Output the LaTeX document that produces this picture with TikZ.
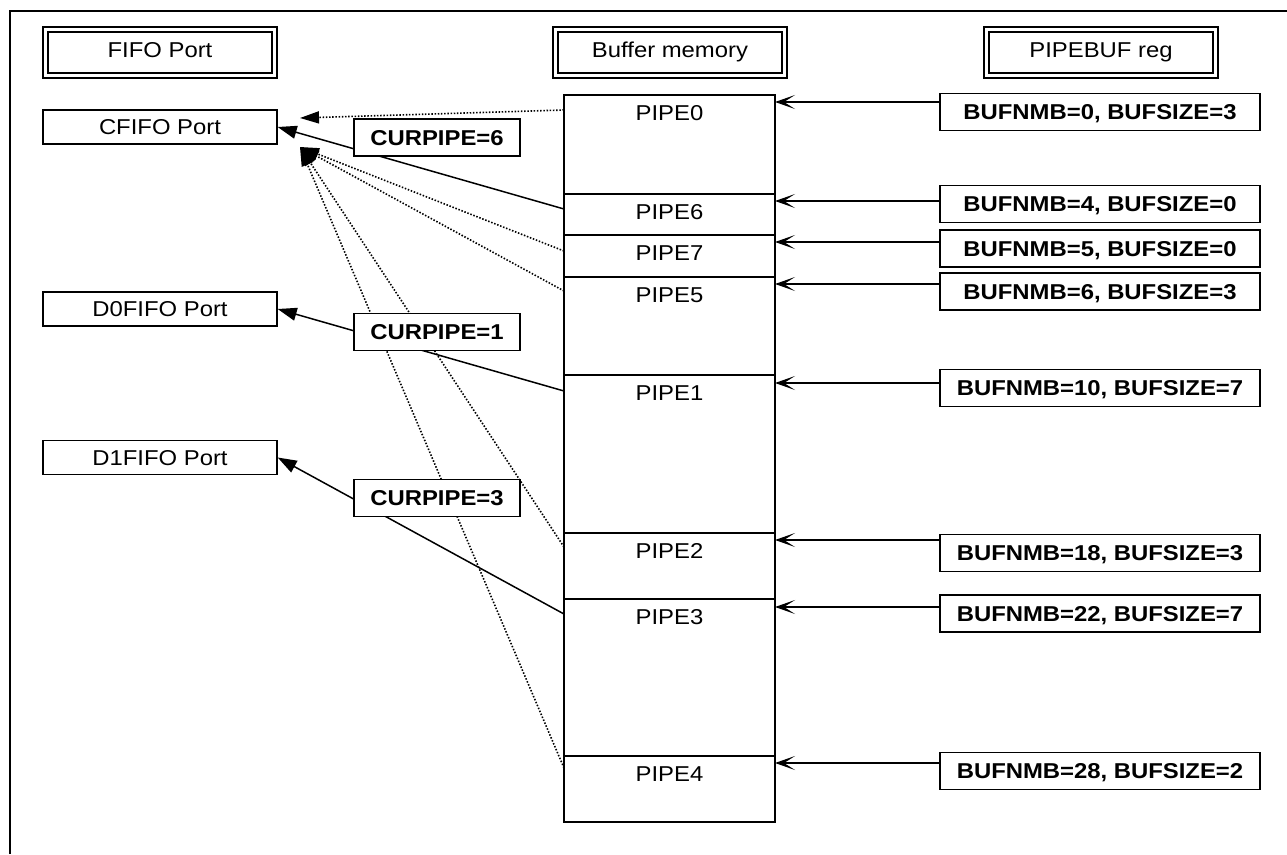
\documentclass[tikz,border=0pt]{standalone}
\usepackage{fontspec}
\setmainfont{Liberation Sans}[FakeStretch=1.11]
\usetikzlibrary{arrows.meta,calc}
\begin{document}
\begin{tikzpicture}[x=1pt,y=-1pt,
  font=\fontsize{21.5}{24}\selectfont,
  hdr/.style={draw, line width=1.5pt, double, double distance=3.5pt, minimum width=229pt, minimum height=46pt, inner sep=0pt, text height=16.1pt, text depth=5.4pt},
  port/.style={draw, line width=1.4pt, fill=white, minimum width=234pt, minimum height=34pt, inner sep=0pt, text height=15.6pt, text depth=0pt},
  cur/.style={port, font=\fontsize{21.5}{24}\selectfont\bfseries, minimum width=166pt, minimum height=37pt},
  reg/.style={cur, minimum width=320pt, minimum height=37pt},
  mem/.style={draw, line width=1.6pt, minimum width=211pt, inner sep=0pt, anchor=north},
  lbl/.style={inner sep=0pt, text height=16.1pt, text depth=5.4pt},
  into/.style={line width=1.4pt, -{Stealth[length=20pt,width=14pt,inset=11pt]}},
  tri/.style={line width=1.5pt, -{Triangle[length=19pt,width=13pt]}},
  dotl/.style={line width=1.6pt, dash pattern=on 1.5pt off 1.7pt, -{Triangle[length=19pt,width=12pt]}}
]
\useasboundingbox (0,0) rectangle (1287,854);
% frame
\draw[line width=2pt] (10,854) -- (10,11) -- (1287,11);
% headers
\node[hdr] (hfifo) at (160,52.5) {FIFO Port};
\node[hdr] (hbuf) at (670,52.5) {Buffer memory};
\node[hdr] (hreg) at (1101,52.5) {PIPEBUF reg};
% ports
\node[port] (cfifo) at (160,127) {CFIFO Port};
\node[port] (d0fifo) at (160,309) {D0FIFO Port};
\node[port] (d1fifo) at (160,457.5) {D1FIFO Port};
% memory
\node[mem, minimum height=99pt] (p0) at (669.5,94) {};
\node[mem, minimum height=41pt] (p6) at (669.5,193) {};
\node[mem, minimum height=42pt] (p7) at (669.5,234) {};
\node[mem, minimum height=98pt] (p5) at (669.5,276) {};
\node[mem, minimum height=158pt] (p1) at (669.5,374) {};
\node[mem, minimum height=66pt] (p2) at (669.5,532) {};
\node[mem, minimum height=157pt] (p3) at (669.5,598) {};
\node[mem, minimum height=66pt] (p4) at (669.5,755) {};
\node[lbl] (t0) at (669.5,115.5) {PIPE0};
\node[lbl] (t6) at (669.5,214.5) {PIPE6};
\node[lbl] (t7) at (669.5,255.5) {PIPE7};
\node[lbl] (t5) at (669.5,297.5) {PIPE5};
\node[lbl] (t1) at (669.5,395.5) {PIPE1};
\node[lbl] (t2) at (669.5,553.5) {PIPE2};
\node[lbl] (t3) at (669.5,619.5) {PIPE3};
\node[lbl] (t4) at (669.5,776.5) {PIPE4};
% registers
\node[reg] (g0) at (1100,112) {BUFNMB=0, BUFSIZE=3};
\node[reg] (g6) at (1100,204) {BUFNMB=4, BUFSIZE=0};
\node[reg] (g7) at (1100,248.5) {BUFNMB=5, BUFSIZE=0};
\node[reg] (g5) at (1100,291.5) {BUFNMB=6, BUFSIZE=3};
\node[reg] (g1) at (1100,388) {BUFNMB=10, BUFSIZE=7};
\node[reg] (g2) at (1100,553) {BUFNMB=18, BUFSIZE=3};
\node[reg] (g3) at (1100,613.5) {BUFNMB=22, BUFSIZE=7};
\node[reg] (g4) at (1100,771) {BUFNMB=28, BUFSIZE=2};
% coordinates on memory edges
\coordinate (r0) at (775,102);
\coordinate (r6) at (775,201);
\coordinate (r7) at (775,242);
\coordinate (r5) at (775,284);
\coordinate (r1) at (775,383);
\coordinate (r2) at (775,540);
\coordinate (r3) at (775,607);
\coordinate (r4) at (775,763);
\coordinate (l0) at (564,110);
\coordinate (l6) at (564,209);
\coordinate (l7) at (564,251);
\coordinate (l5) at (564,291);
\coordinate (l1) at (564,391);
\coordinate (l2) at (564,547);
\coordinate (l3) at (564,614);
\coordinate (l4) at (564,768);
\coordinate (tip0) at (300,118);
\coordinate (tipc) at (300,147);
% register arrows
\foreach \k in {0,6,7,5,1,2,3,4}{
  \draw[into] (g\k.west |- r\k) -- (r\k);
}
% dotted arrows to CFIFO
\draw[dotl] (l0) -- (tip0);
\draw[dotl] (l7) -- (tipc);
\draw[dotl] (l5) -- (tipc);
\draw[dotl] (l2) -- (tipc);
\draw[dotl] (l4) -- (tipc);
% solid arrows
\draw[tri] (l6) -- (cfifo.east);
\draw[tri] (l1) -- (d0fifo.east);
\draw[tri] (l3) -- (d1fifo.east);
% CURPIPE labels
\node[cur] (c6) at (437,137.5) {CURPIPE=6};
\node[cur] (c1) at (437,332) {CURPIPE=1};
\node[cur] (c3) at (437,498) {CURPIPE=3};
\end{tikzpicture}
\end{document}
